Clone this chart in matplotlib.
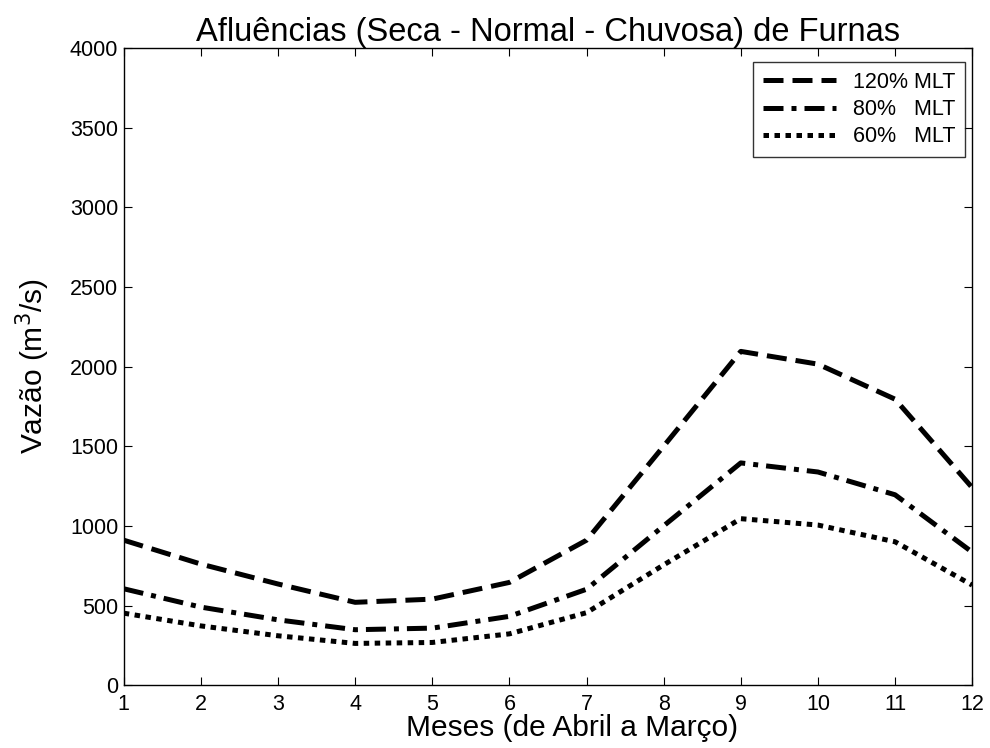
import numpy as np
import matplotlib.pyplot as plt

plt.rcParams['font.family'] = ['Liberation Sans', 'DejaVu Sans']

meses = np.arange(1, 13)
mlt_120 = [910, 760, 635, 520, 540, 645, 910, 1500, 2095, 2015, 1795, 1240]
mlt_80 = [605, 490, 410, 348, 358, 432, 602, 1000, 1395, 1338, 1195, 835]
mlt_60 = [452, 372, 310, 262, 268, 322, 455, 755, 1045, 1005, 900, 628]

fig = plt.figure(figsize=(9.9, 7.48), dpi=100)
ax = fig.add_axes([0.125, 0.084, 0.857, 0.852])

lw = 3.6
ax.plot(meses, mlt_120, color='k', linewidth=lw, dashes=(4, 1.8), label='120% MLT')
ax.plot(meses, mlt_80, color='k', linewidth=lw, dashes=(4, 1.6, 1.0, 1.6), label='80%   MLT')
ax.plot(meses, mlt_60, color='k', linewidth=lw, dashes=(1.1, 1.1), label='60%   MLT')

ax.set_xlim(1, 12)
ax.set_ylim(0, 4000)
ax.set_xticks(meses)
ax.set_yticks(np.arange(0, 4001, 500))
ax.tick_params(direction='in', top=True, right=True, labelsize=15.5, length=6)
ax.tick_params(axis='x', pad=6)
ax.tick_params(axis='y', pad=4)
for s in ax.spines.values():
    s.set_linewidth(1.0)

ax.set_title('Afluências (Seca - Normal - Chuvosa) de Furnas', fontsize=23.5, pad=5)
ax.set_xlabel('Meses (de Abril a Março)', fontsize=21.5)
ax.xaxis.set_label_coords(0.528, -0.045)
ax.set_ylabel('Vazão (m$^3$/s)', fontsize=21.5)
ax.yaxis.set_label_coords(-0.084, 0.5)

leg = ax.legend(loc='upper right', bbox_to_anchor=(0.992, 0.978), borderaxespad=0,
                fontsize=15.5, frameon=True, fancybox=False, edgecolor='k',
                handlelength=3.4, labelspacing=0.3, borderpad=0.45)
leg.get_frame().set_linewidth(1.0)

fig.savefig('out.png', dpi=100)
